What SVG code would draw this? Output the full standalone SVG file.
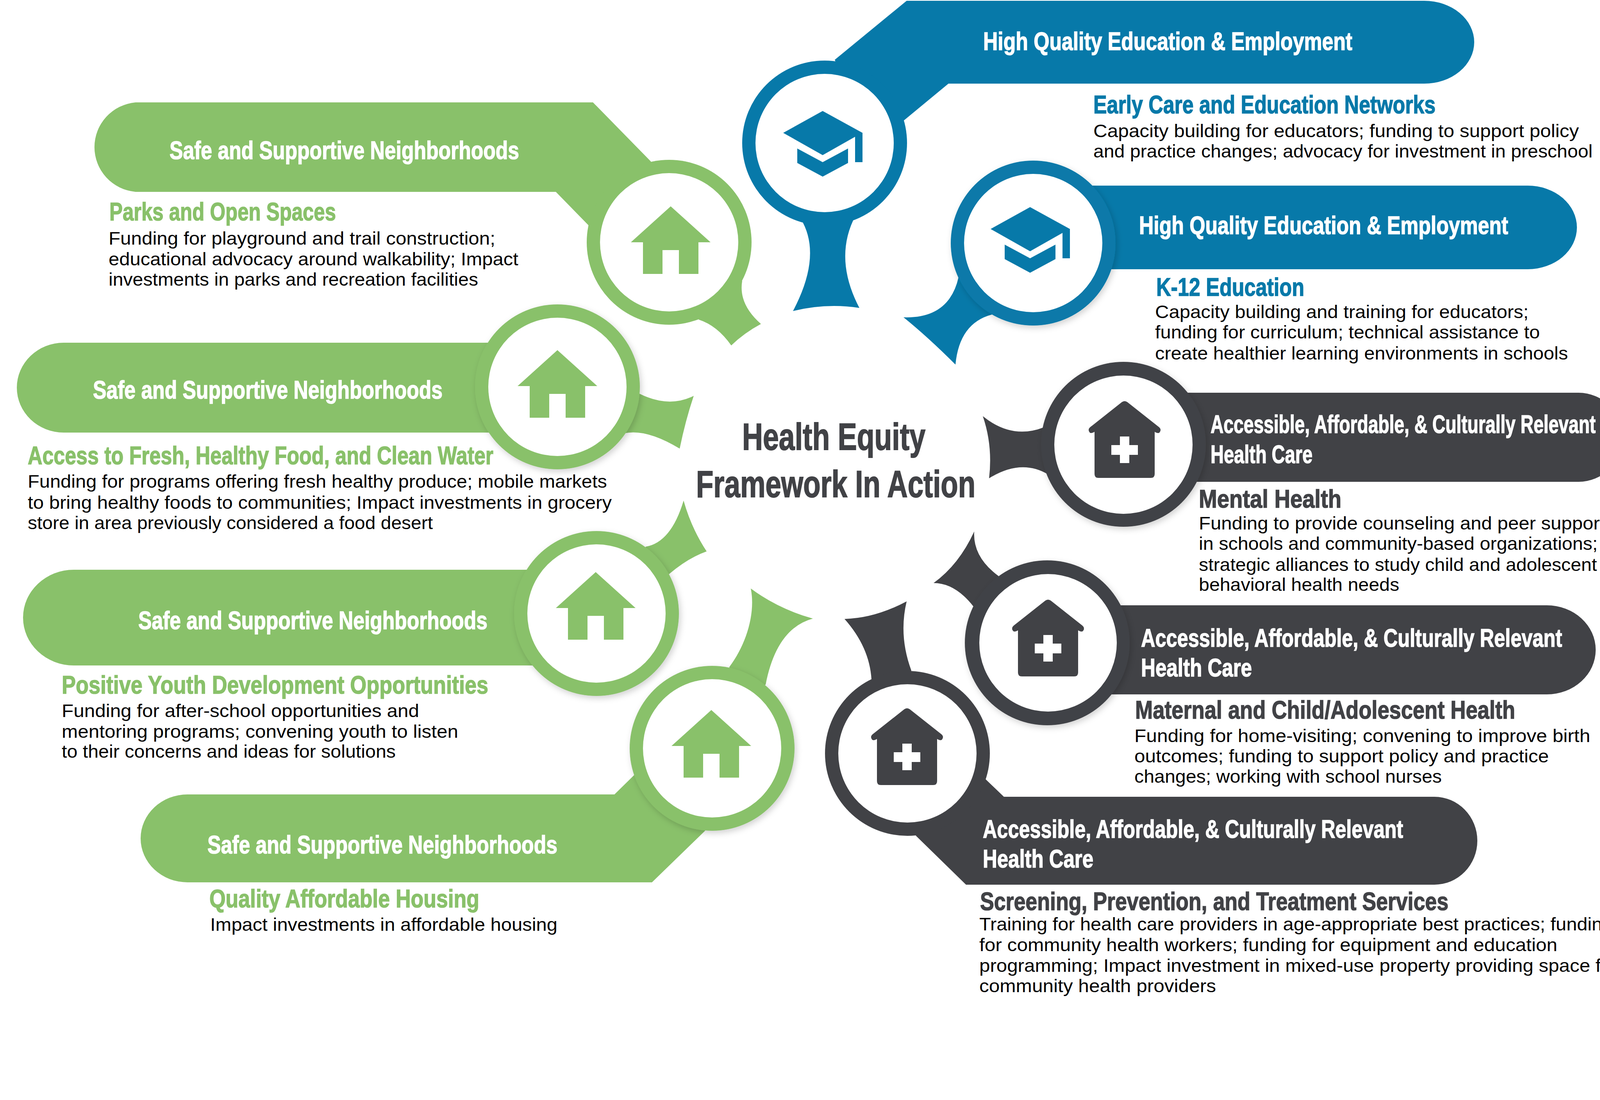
<svg xmlns="http://www.w3.org/2000/svg" xmlns:xlink="http://www.w3.org/1999/xlink" width="4184" height="2815" viewBox="0 0 4184 2815">
<style>
text{white-space:pre}
.blue{fill:#0779a9}.green{fill:#89c16a}.dark{fill:#414246}
.ring{fill:#fff}
.h{font-family:"Liberation Sans",Arial,sans-serif;font-weight:700;font-size:65px;transform:scale(.66,1);stroke-width:1.6}
.h.w{stroke:#fff}.h.blue{stroke:#0779a9}.h.green{stroke:#89c16a}.h.dark{stroke:#414246}
.w{fill:#fff}
.b{font-family:"Liberation Sans",Arial,sans-serif;font-size:46px;fill:#000;transform:scale(.87,1)}
.c{font-family:"Liberation Sans",Arial,sans-serif;font-weight:700;font-size:96px;fill:#414246;transform:scale(.66,1);stroke:#414246;stroke-width:2}
.sh{filter:url(#shadow)}
</style>
<defs>
<filter id="shadow" x="-20%" y="-20%" width="140%" height="140%"><feDropShadow dx="4" dy="6" stdDeviation="8" flood-color="#000" flood-opacity=".18"/></filter>
<path id="house" d="M0,0L102,92H71V173H21V112H-21V173H-71V92H-102Z"/>
<path id="clinic" d="M-7,2Q0,-3 7,2L88,66Q95,72 90,79Q87,84 77,78V186Q77,196 67,196H-67Q-77,196 -77,186V78Q-87,84 -90,79Q-95,72 -88,66Z"/>
<path id="plus" d="M-12,90H12V112H34V137H12V158H-12V137H-34V112H-12Z"/>
<path id="cap" d="M0,0L102,56V131H83V66L0,113L-101,56ZM-65,96L0,131L65,96V133L0,168L-65,133Z"/>
</defs>
<rect width="4184" height="2815" fill="#fff"/>
<g id="connectors">
<path class="blue" d="M2050,560Q2106,652 2030,796Q2115,775 2200,788Q2133,660 2190,552L2120,500Z"/>
<path class="blue" d="M2454,709Q2430,816 2313,812Q2375,862 2446,933Q2456,827 2539,805L2600,700Z"/>
<path class="green" d="M1900,719Q1890,778 1948,829Q1905,852 1872,884Q1836,833 1789,818L1760,720Z"/>
<path class="green" d="M1636,1007Q1712,1045 1776,1013Q1755,1075 1740,1148Q1654,1096 1597,1109L1500,1050Z"/>
<path class="green" d="M1653,1399Q1718,1388 1750,1281Q1770,1352 1809,1411Q1761,1428 1713,1469L1620,1500Z"/>
<path class="green" d="M1867,1707C1910,1650 1935,1570 1922,1506Q1992,1558 2081,1583Q1988,1608 1960,1752L1880,1800Z"/>
<path class="dark" d="M2671,1094Q2590,1125 2516,1065Q2542,1141 2532,1224Q2614,1173 2683,1214L2760,1150Z"/>
<path class="dark" d="M2556,1474Q2490,1425 2494,1360Q2455,1445 2390,1492Q2445,1492 2492,1552L2600,1600Z"/>
<path class="dark" d="M2333,1716Q2300,1627 2321,1539Q2240,1582 2162,1584Q2226,1656 2231,1739L2300,1800Z"/>
</g>

<g id="node-early-care">
<path class="blue" d="M2321,2H3646A128,106 0 0 1 3646,214H2428L2313,309L2200,300L2137,153Z"/>
<circle class="blue" cx="2111" cy="366" r="211"/><circle class="ring" cx="2111" cy="366" r="177"/>
<use class="blue" xlink:href="#cap" href="#cap" x="2106" y="284"/>
<text class="h w" x="3813.6" y="128" textLength="1431.8" lengthAdjust="spacingAndGlyphs">High Quality Education &amp; Employment</text>
<text class="h blue" x="4240.9" y="290" textLength="1327.3" lengthAdjust="spacingAndGlyphs">Early Care and Education Networks</text>
<text class="b" x="3217.2" y="351" textLength="1428.7" lengthAdjust="spacingAndGlyphs">Capacity building for educators; funding to support policy</text>
<text class="b" x="3217.2" y="403" textLength="1469" lengthAdjust="spacingAndGlyphs">and practice changes; advocacy for investment in preschool</text>
</g>

<g id="node-k12">
<path class="blue" d="M2700,475H3911A126,107 0 0 1 3911,689H2700Z"/>
<circle class="blue sh" cx="2645" cy="622" r="211"/><circle class="ring" cx="2645" cy="622" r="177"/>
<use class="blue" xlink:href="#cap" href="#cap" x="2637" y="530"/>
<text class="h w" x="4418.2" y="599" textLength="1431.8" lengthAdjust="spacingAndGlyphs">High Quality Education &amp; Employment</text>
<text class="h blue" x="4484.8" y="757" textLength="574.2" lengthAdjust="spacingAndGlyphs">K-12 Education</text>
<text class="b" x="3398.9" y="814" textLength="1098.9" lengthAdjust="spacingAndGlyphs">Capacity building and training for educators;</text>
<text class="b" x="3398.9" y="866" textLength="1132.2" lengthAdjust="spacingAndGlyphs">funding for curriculum; technical assistance to</text>
<text class="b" x="3398.9" y="920" textLength="1214.9" lengthAdjust="spacingAndGlyphs">create healthier learning environments in schools</text>
</g>

<g id="node-parks">
<path class="green" d="M347,262H1518L1666,413L1760,600L1507,577L1423,491H347A116,115 0 0 1 347,262Z"/>
<circle class="green" cx="1713" cy="620" r="211"/><circle class="ring" cx="1713" cy="620" r="177"/>
<use class="green" xlink:href="#house" href="#house" x="1717" y="528"/>
<text class="h w" x="657.6" y="407" textLength="1356.1" lengthAdjust="spacingAndGlyphs">Safe and Supportive Neighborhoods</text>
<text class="h green" x="424.2" y="564" textLength="878.8" lengthAdjust="spacingAndGlyphs">Parks and Open Spaces</text>
<text class="b" x="319.5" y="626" textLength="1137.9" lengthAdjust="spacingAndGlyphs">Funding for playground and trail construction;</text>
<text class="b" x="319.5" y="679" textLength="1205.7" lengthAdjust="spacingAndGlyphs">educational advocacy around walkability; Impact</text>
<text class="b" x="319.5" y="731" textLength="1087.4" lengthAdjust="spacingAndGlyphs">investments in parks and recreation facilities</text>
</g>

<g id="node-food">
<path class="green" d="M163,877H1400V1107H163A120,115 0 0 1 163,877Z"/>
<circle class="green sh" cx="1427" cy="990" r="211"/><circle class="ring" cx="1427" cy="990" r="177"/>
<use class="green" xlink:href="#house" href="#house" x="1427" y="896"/>
<text class="h w" x="360.6" y="1020" textLength="1356.1" lengthAdjust="spacingAndGlyphs">Safe and Supportive Neighborhoods</text>
<text class="h green" x="107.6" y="1188" textLength="1806.1" lengthAdjust="spacingAndGlyphs">Access to Fresh, Healthy Food, and Clean Water</text>
<text class="b" x="81.6" y="1248" textLength="1704.6" lengthAdjust="spacingAndGlyphs">Funding for programs offering fresh healthy produce; mobile markets</text>
<text class="b" x="81.6" y="1302" textLength="1718.4" lengthAdjust="spacingAndGlyphs">to bring healthy foods to communities; Impact investments in grocery</text>
<text class="b" x="81.6" y="1354" textLength="1192" lengthAdjust="spacingAndGlyphs">store in area previously considered a food desert</text>
</g>

<g id="node-youth">
<path class="green" d="M189,1458H1500V1703H189A130,122.5 0 0 1 189,1458Z"/>
<circle class="green sh" cx="1527" cy="1570" r="211"/><circle class="ring" cx="1527" cy="1570" r="177"/>
<use class="green" xlink:href="#house" href="#house" x="1525" y="1464"/>
<text class="h w" x="536.4" y="1610" textLength="1354.5" lengthAdjust="spacingAndGlyphs">Safe and Supportive Neighborhoods</text>
<text class="h green" x="239.4" y="1775" textLength="1654.5" lengthAdjust="spacingAndGlyphs">Positive Youth Development Opportunities</text>
<text class="b" x="181.6" y="1835" textLength="1051.7" lengthAdjust="spacingAndGlyphs">Funding for after-school opportunities and</text>
<text class="b" x="181.6" y="1888" textLength="1166.7" lengthAdjust="spacingAndGlyphs">mentoring programs; convening youth to listen</text>
<text class="b" x="181.6" y="1939" textLength="982.8" lengthAdjust="spacingAndGlyphs">to their concerns and ideas for solutions</text>
</g>

<g id="node-housing">
<path class="green" d="M480,2033H1573L1624,1983L1850,2050L1805,2126L1669,2258H480A120,112.5 0 0 1 480,2033Z"/>
<circle class="green sh" cx="1823" cy="1915" r="211"/><circle class="ring" cx="1823" cy="1915" r="177"/>
<use class="green" xlink:href="#house" href="#house" x="1821" y="1817"/>
<text class="h w" x="804.5" y="2184" textLength="1357.6" lengthAdjust="spacingAndGlyphs">Safe and Supportive Neighborhoods</text>
<text class="h green" x="812.1" y="2322" textLength="1047" lengthAdjust="spacingAndGlyphs">Quality Affordable Housing</text>
<text class="b" x="618.4" y="2382" textLength="1021.8" lengthAdjust="spacingAndGlyphs">Impact investments in affordable housing</text>
</g>

<g id="node-mental">
<path class="dark" d="M2900,1005H4041A113,114 0 0 1 4041,1233H2900Z"/>
<circle class="dark sh" cx="2876" cy="1137" r="211"/><circle class="ring" cx="2876" cy="1138" r="177"/>
<use class="dark" xlink:href="#clinic" href="#clinic" x="2879" y="1027"/><use class="ring" xlink:href="#plus" href="#plus" x="2879" y="1027"/>
<text class="h w" x="4695.5" y="1108" textLength="1493.9" lengthAdjust="spacingAndGlyphs">Accessible, Affordable, &amp; Culturally Relevant</text>
<text class="h w" x="4695.5" y="1185" textLength="395.5" lengthAdjust="spacingAndGlyphs">Health Care</text>
<text class="h dark" x="4650" y="1299" textLength="553" lengthAdjust="spacingAndGlyphs">Mental Health</text>
<text class="b" x="3527.6" y="1355" textLength="1195.4" lengthAdjust="spacingAndGlyphs">Funding to provide counseling and peer support</text>
<text class="b" x="3527.6" y="1407" textLength="1173.6" lengthAdjust="spacingAndGlyphs">in schools and community-based organizations;</text>
<text class="b" x="3527.6" y="1461" textLength="1171.3" lengthAdjust="spacingAndGlyphs">strategic alliances to study child and adolescent</text>
<text class="b" x="3527.6" y="1512" textLength="589.7" lengthAdjust="spacingAndGlyphs">behavioral health needs</text>
</g>

<g id="node-maternal">
<path class="dark" d="M2700,1549H3960A125,114 0 0 1 3960,1777H2700Z"/>
<circle class="dark sh" cx="2681" cy="1645" r="211"/><circle class="ring" cx="2683" cy="1645" r="176"/>
<use class="dark" xlink:href="#clinic" href="#clinic" x="2683" y="1535"/><use class="ring" xlink:href="#plus" href="#plus" x="2683" y="1535"/>
<text class="h w" x="4425.8" y="1655" textLength="1633.3" lengthAdjust="spacingAndGlyphs">Accessible, Affordable, &amp; Culturally Relevant</text>
<text class="h w" x="4425.8" y="1731" textLength="430.3" lengthAdjust="spacingAndGlyphs">Health Care</text>
<text class="h dark" x="4403" y="1839" textLength="1474.2" lengthAdjust="spacingAndGlyphs">Maternal and Child/Adolescent Health</text>
<text class="b" x="3337.9" y="1899" textLength="1341.4" lengthAdjust="spacingAndGlyphs">Funding for home-visiting; convening to improve birth</text>
<text class="b" x="3337.9" y="1951" textLength="1219.5" lengthAdjust="spacingAndGlyphs">outcomes; funding to support policy and practice</text>
<text class="b" x="3337.9" y="2003" textLength="904.6" lengthAdjust="spacingAndGlyphs">changes; working with school nurses</text>
</g>

<g id="node-screening">
<path class="dark" d="M2523,1994L2570,2039H3672A110,112.5 0 0 1 3672,2264H2473L2345,2139L2300,2000Z"/>
<circle class="dark" cx="2323" cy="1928" r="211"/><circle class="ring" cx="2323" cy="1928" r="177"/>
<use class="dark" xlink:href="#clinic" href="#clinic" x="2322" y="1813"/><use class="ring" xlink:href="#plus" href="#plus" x="2322" y="1813"/>
<text class="h w" x="3812.1" y="2144" textLength="1630.3" lengthAdjust="spacingAndGlyphs">Accessible, Affordable, &amp; Culturally Relevant</text>
<text class="h w" x="3812.1" y="2220" textLength="428.8" lengthAdjust="spacingAndGlyphs">Health Care</text>
<text class="h dark" x="3801.5" y="2329" textLength="1816.7" lengthAdjust="spacingAndGlyphs">Screening, Prevention, and Treatment Services</text>
<text class="b" x="2881.6" y="2381" textLength="1864.4" lengthAdjust="spacingAndGlyphs">Training for health care providers in age-appropriate best practices; funding</text>
<text class="b" x="2881.6" y="2434" textLength="1701.1" lengthAdjust="spacingAndGlyphs">for community health workers; funding for equipment and education</text>
<text class="b" x="2881.6" y="2487" textLength="1879.3" lengthAdjust="spacingAndGlyphs">programming; Impact investment in mixed-use property providing space for</text>
<text class="b" x="2881.6" y="2539" textLength="696.6" lengthAdjust="spacingAndGlyphs">community health providers</text>
</g>

<g id="node-center">
<text class="c" x="2878.8" y="1151" textLength="710.6" lengthAdjust="spacingAndGlyphs">Health Equity</text>
<text class="c" x="2700" y="1272" textLength="1083.3" lengthAdjust="spacingAndGlyphs">Framework In Action</text>
</g>
</svg>
